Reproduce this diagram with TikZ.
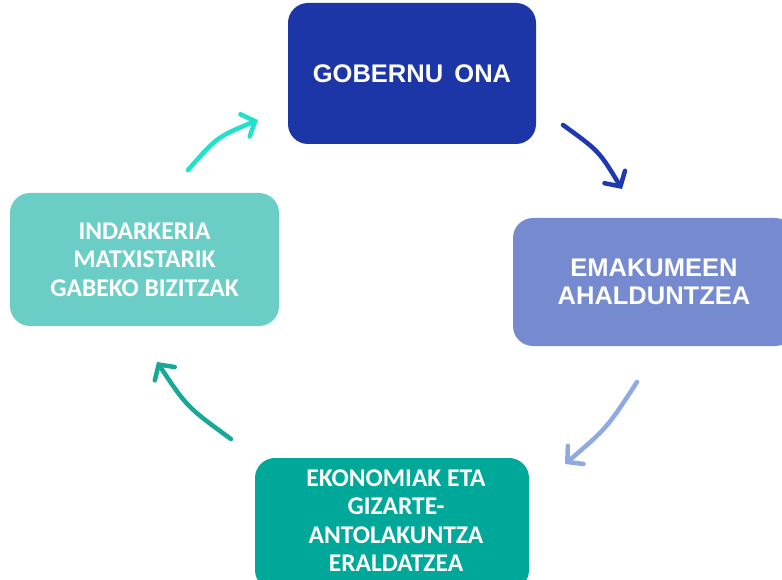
\documentclass[tikz,border=0pt]{standalone}
\usepackage{fontspec}
\newfontfamily\arialf{Liberation Sans}
\newfontfamily\calibf{Carlito}
\usetikzlibrary{arrows.meta}
\definecolor{cTop}{RGB}{28,54,168}
\definecolor{cRight}{RGB}{118,138,208}
\definecolor{cBottom}{RGB}{0,168,154}
\definecolor{cLeft}{RGB}{107,206,198}
\definecolor{aTop}{RGB}{30,56,176}
\definecolor{aRight}{RGB}{142,170,224}
\definecolor{aBottom}{RGB}{24,168,150}
\definecolor{aLeft}{RGB}{32,226,204}
\tikzset{
  box/.style={rectangle, rounded corners=20pt, text=white, align=center, inner sep=0pt},
  arialtxt/.style={font=\arialf\bfseries\fontsize{25.5}{28}\selectfont},
  calibtxt/.style={font=\calibf\bfseries\fontsize{25.5}{28.5}\selectfont},
  cyc/.style={line width=4.5pt, line cap=round, -{Straight Barb[length=11pt,width=24pt,line cap=round]}}
}
\begin{document}
\begin{tikzpicture}[x=1pt,y=-1pt]
\useasboundingbox (0,0) rectangle (782,580);
\clip (0,0) rectangle (782,580);
\fill[white] (0,0) rectangle (782,580);
\node[box, fill=cTop, minimum width=248pt, minimum height=141pt, arialtxt] (gob) at (412,73.5) {GOBERNU\, ONA};
\node[box, fill=cRight, minimum width=282pt, minimum height=128pt, arialtxt] (ema) at (654,282) {EMAKUMEEN\\AHALDUNTZEA};
\node[box, fill=cBottom, minimum width=274pt, minimum height=132pt] (eko) at (392,524) {};
\node[calibtxt, text=white, align=center] (ekot) at (396,520.5) {EKONOMIAK ETA\\GIZARTE-\\ANTOLAKUNTZA\\ERALDATZEA};
\node[box, fill=cLeft, minimum width=269pt, minimum height=133pt, calibtxt] (ind) at (144.5,259.5) {INDARKERIA\\MATXISTARIK\\GABEKO BIZITZAK};
\coordinate (a1s) at (563,125);
\coordinate (a1c) at (599,151);
\coordinate (a1e) at (622,189);
\coordinate (a2s) at (637,382);
\coordinate (a2c) at (607,428);
\coordinate (a2e) at (565,464);
\coordinate (a3s) at (231,439);
\coordinate (a3c) at (187,407);
\coordinate (a3e) at (157,362);
\coordinate (a4s) at (188,170);
\coordinate (a4c) at (217,137);
\coordinate (a4e) at (258,120);
\draw[cyc, aTop] (a1s) .. controls (a1c) .. (a1e);
\draw[cyc, aRight] (a2s) .. controls (a2c) .. (a2e);
\draw[cyc, aBottom] (a3s) .. controls (a3c) .. (a3e);
\draw[cyc, aLeft] (a4s) .. controls (a4c) .. (a4e);
\end{tikzpicture}
\end{document}
